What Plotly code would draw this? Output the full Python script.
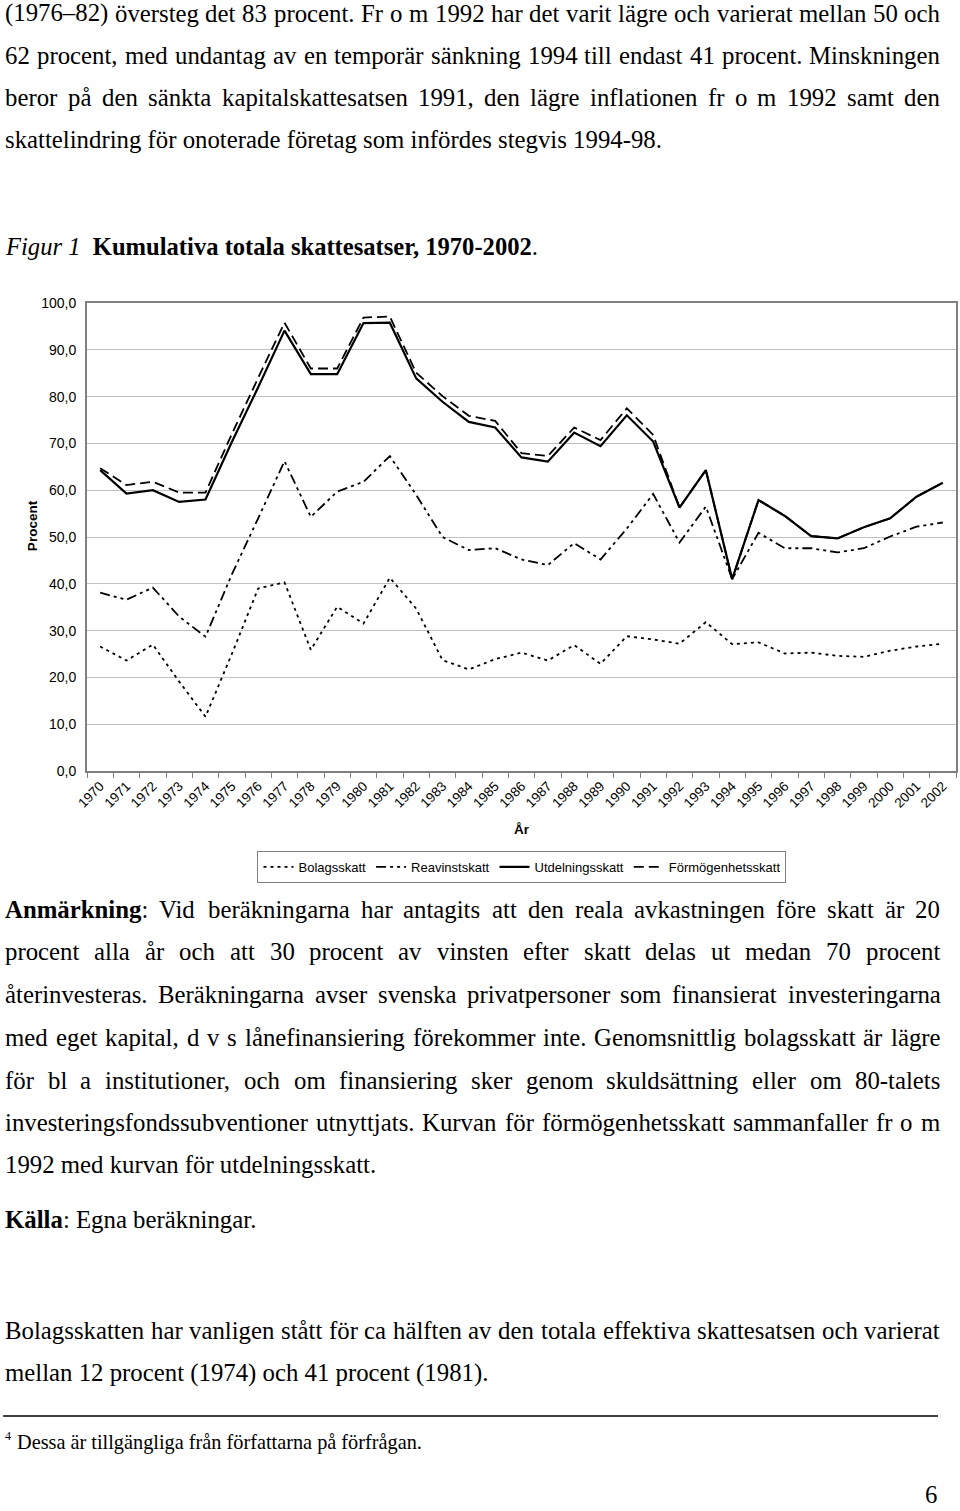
import re
import plotly.graph_objects as go

years = [str(y) for y in range(1970, 2003)]

bolagsskatt = [26.6, 23.6, 27.0, 19.1, 11.6, 25.0, 39.0, 40.3, 25.9, 35.1, 31.5, 41.3, 34.7,
               23.7, 21.7, 23.9, 25.3, 23.6, 26.9, 22.9, 28.8, 28.1, 27.2, 31.8, 27.1, 27.5,
               25.1, 25.3, 24.6, 24.4, 25.7, 26.6, 27.2]
reavinstskatt = [38.1, 36.6, 39.2, 33.0, 28.7, 42.0, 54.0, 66.2, 54.3, 59.7, 61.8, 67.3, 59.0,
                 50.0, 47.2, 47.6, 45.2, 44.0, 48.7, 45.2, 51.8, 59.2, 48.8, 56.5, 41.0, 50.9,
                 47.6, 47.6, 46.7, 47.6, 50.1, 52.2, 53.1]
utdelningsskatt = [64.3, 59.3, 60.0, 57.5, 58.0, 70.3, 82.0, 94.1, 84.8, 84.8, 95.7, 95.8, 83.9,
                   78.9, 74.6, 73.4, 67.0, 66.1, 72.3, 69.4, 76.0, 70.4, 56.3, 64.3, 41.0, 57.9,
                   54.5, 50.2, 49.7, 52.1, 54.0, 58.6, 61.6]
formogenhetsskatt = [64.7, 61.1, 61.8, 59.5, 59.5, 72.0, 84.0, 95.8, 86.0, 86.0, 96.9, 97.1, 85.1,
                     80.1, 75.9, 74.8, 67.9, 67.3, 73.4, 70.7, 77.5, 71.8, 56.3, 64.3, 41.0, 57.9,
                     54.5, 50.2, 49.7, 52.1, 54.0, 58.6, 61.6]

y_tickvals = [0, 10, 20, 30, 40, 50, 60, 70, 80, 90, 100]
y_ticktext = ["0,0", "10,0", "20,0", "30,0", "40,0", "50,0", "60,0", "70,0", "80,0", "90,0", "100,0"]

series_names = ["Bolagsskatt", "Reavinstskatt", "Utdelningsskatt", "Förmögenhetsskatt"]

# (text, justified?)
top_lines = [
    ("(1976–82) översteg det 83 procent. Fr o m 1992 har det varit lägre och varierat mellan 50 och", True),
    ("62 procent, med undantag av en temporär sänkning 1994 till endast 41 procent. Minskningen", True),
    ("beror på den sänkta kapitalskattesatsen 1991, den lägre inflationen fr o m 1992 samt den", True),
    ("skattelindring för onoterade företag som infördes stegvis 1994-98.", False),
]
fig_title = "<i>Figur 1</i>  <b>Kumulativa totala skattesatser, 1970-2002</b>."
note_lines = [
    ("<b>Anmärkning</b>: Vid beräkningarna har antagits att den reala avkastningen före skatt är 20", True),
    ("procent alla år och att 30 procent av vinsten efter skatt delas ut medan 70 procent", True),
    ("återinvesteras. Beräkningarna avser svenska privatpersoner som finansierat investeringarna", True),
    ("med eget kapital, d v s lånefinansiering förekommer inte. Genomsnittlig bolagsskatt är lägre", True),
    ("för bl a institutioner, och om finansiering sker genom skuldsättning eller om 80-talets", True),
    ("investeringsfondssubventioner utnyttjats. Kurvan för förmögenhetsskatt sammanfaller fr o m", True),
    ("1992 med kurvan för utdelningsskatt.", False),
]
source_line = "<b>Källa</b>: Egna beräkningar."
bottom_lines = [
    ("Bolagsskatten har vanligen stått för ca hälften av den totala effektiva skattesatsen och varierat", True),
    ("mellan 12 procent (1974) och 41 procent (1981).", False),
]
footnote_mark = "4"
footnote = "Dessa är tillgängliga från författarna på förfrågan."
page_no = "6"

# layout geometry (pixels)
L, R, T, B = 87, 958, 303, 771
W, H = 960, 1511
TEXT_LEFT, TEXT_RIGHT = 3, 940


def px(x):
    return (x - L) / (R - L)


def py(y):
    return (B - y) / (B - T)


# Times / Liberation Serif advance widths (per 1000 em) for justification
REG = {' ': 250, 'a': 444, 'b': 500, 'c': 444, 'd': 500, 'e': 444, 'f': 333, 'g': 500, 'h': 500,
       'i': 278, 'j': 278, 'k': 500, 'l': 278, 'm': 778, 'n': 500, 'o': 500, 'p': 500, 'q': 500,
       'r': 333, 's': 389, 't': 278, 'u': 500, 'v': 500, 'w': 722, 'x': 500, 'y': 500, 'z': 444,
       'å': 444, 'ä': 444, 'ö': 500, ',': 250, '.': 250, '-': 333, ':': 278, '(': 333, ')': 333,
       '–': 500, 'A': 722, 'B': 667, 'D': 722, 'F': 556, 'G': 722, 'K': 722, 'M': 889, 'N': 722,
       'V': 722}
for d in "0123456789":
    REG[d] = 500
BOLD = {'A': 722, 'n': 556, 'm': 833, 'ä': 500, 'r': 444, 'k': 556, 'i': 278, 'g': 500,
        'K': 778, 'l': 278, 'a': 500}


def word_width(word, size):
    total = 0
    for part_bold, part in re.findall(r"(<b>)?([^<]+)(?:</b>)?", word):
        table = BOLD if part_bold else REG
        total += sum(table.get(ch, REG.get(ch, 500)) for ch in part)
    return total * size / 1000.0


serif = "Liberation Serif"
sans = "Liberation Sans"
BODY = 24.8
ann = []


def add_line(text, y, justify, size=BODY):
    if not justify:
        ann.append(dict(text=text, x=px(TEXT_LEFT), y=py(y), xanchor="left", yanchor="middle",
                        font=dict(family=serif, size=size, color="black")))
        return
    words = text.split(" ")
    widths = [word_width(w, size) for w in words]
    gap = (TEXT_RIGHT - TEXT_LEFT - sum(widths)) / (len(words) - 1)
    x = TEXT_LEFT
    for w, wd in zip(words, widths):
        ann.append(dict(text=w, x=px(x), y=py(y), xanchor="left", yanchor="middle",
                        font=dict(family=serif, size=size, color="black")))
        x += wd + gap


for i, (t, j) in enumerate(top_lines):
    add_line(t, 13 + 42.3 * i, j)
ann.append(dict(text=fig_title, x=px(TEXT_LEFT), y=py(246), xanchor="left", yanchor="middle",
                font=dict(family=serif, size=24.6, color="black")))
note_y = [909, 951, 994, 1037, 1080, 1122, 1164]
for (t, j), yy in zip(note_lines, note_y):
    add_line(t, yy, j)
add_line(source_line, 1219, False)
for (t, j), yy in zip(bottom_lines, [1330, 1373]):
    add_line(t, yy, j)
ann.append(dict(text=footnote_mark, x=px(3), y=py(1436), xanchor="left", yanchor="middle",
                font=dict(family=serif, size=12, color="black")))
ann.append(dict(text=footnote, x=px(15), y=py(1442), xanchor="left", yanchor="middle",
                font=dict(family=serif, size=20.3, color="black")))
ann.append(dict(text=page_no, x=px(941), y=py(1510), xanchor="right", yanchor="bottom",
                font=dict(family=serif, size=BODY, color="black")))
ann.append(dict(text="<b>Procent</b>", x=px(32), y=py(526), xanchor="center", yanchor="middle",
                textangle=-90, font=dict(family=sans, size=13.5, color="black")))
ann.append(dict(text="<b>År</b>", x=px(523), y=py(829), xanchor="center", yanchor="middle",
                font=dict(family=sans, size=13.5, color="black")))
for a in ann:
    a.update(xref="paper", yref="paper", showarrow=False)

fig = go.Figure()
styles = [
    dict(dash="3px,4px", width=1.8),
    dict(dash="10px,4px,3px,4px,3px,4px", width=1.8),
    dict(dash="solid", width=2.2),
    dict(dash="10px,5px", width=1.8),
]
for name, vals, st in zip(series_names, [bolagsskatt, reavinstskatt, utdelningsskatt, formogenhetsskatt], styles):
    fig.add_trace(go.Scatter(x=years, y=vals, mode="lines", name=name,
                             line=dict(color="black", width=st["width"], dash=st["dash"])))

fig.update_layout(
    width=W, height=H,
    margin=dict(l=L, r=W - R, t=T, b=H - B, pad=0),
    paper_bgcolor="white", plot_bgcolor="white",
    annotations=ann,
    shapes=[dict(type="line", xref="paper", yref="paper", x0=px(3), x1=px(940),
                 y0=py(1416), y1=py(1416), line=dict(color="black", width=1.3))],
    legend=dict(orientation="h", x=px(523), xanchor="center", y=py(851), yanchor="top",
                bordercolor="#808080", borderwidth=1, font=dict(family=sans, size=13, color="black"),
                itemwidth=30, tracegroupgap=0, bgcolor="white"),
    showlegend=True,
)
fig.update_xaxes(type="category", range=[-0.5, 32.5], tickangle=-45,
                 tickfont=dict(family=sans, size=13.5, color="black"),
                 showline=True, linecolor="#808080", linewidth=2, mirror=True,
                 ticks="outside", tickson="boundaries", ticklen=5, tickcolor="#808080",
                 showgrid=False, zeroline=False)
fig.update_yaxes(range=[0, 100], tickvals=y_tickvals, ticktext=y_ticktext,
                 tickfont=dict(family=sans, size=14, color="black"),
                 showline=True, linecolor="#808080", linewidth=2, mirror=True,
                 showgrid=True, gridcolor="#c0c0c0", gridwidth=1, zeroline=False,
                 ticks="", ticklabelstandoff=6)

fig.write_html("out.html")
